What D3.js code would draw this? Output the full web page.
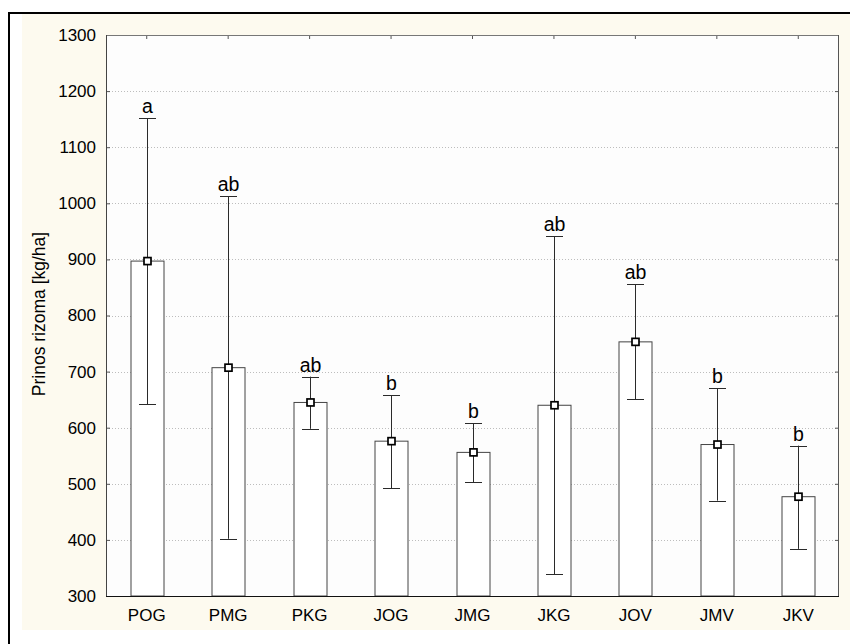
<!DOCTYPE html>
<html><head><meta charset="utf-8">
<script src="https://cdn.jsdelivr.net/npm/d3@7"></script>
<style>body{margin:0;background:#fff}svg{display:block}text{font-family:"Liberation Sans",Arial,sans-serif;fill:#000}</style>
</head><body><svg id="c" width="850" height="644"></svg>
<script>
const categories = ["POG","PMG","PKG","JOG","JMG","JKG","JOV","JMV","JKV"];
const means      = [897, 707, 645, 576, 556, 640, 753, 570, 477];
const upper      = [1152, 1013, 691, 658, 608, 941, 856, 670, 568];
const lower      = [642, 402, 598, 492, 503, 339, 651, 470, 384];
const letters    = ["a","ab","ab","b","b","ab","ab","b","b"];
const yTicks     = [300,400,500,600,700,800,900,1000,1100,1200,1300];

const svg = d3.select("#c");
const L=106, R=839, T=35, B=596;

// background frame
svg.append("rect").attr("x",22).attr("y",14).attr("width",828).attr("height",616).attr("fill","#fdfaef");
svg.append("line").attr("x1",8).attr("x2",850).attr("y1",13).attr("y2",13).attr("stroke","#000").attr("stroke-width",2);
svg.append("line").attr("x1",9).attr("x2",9).attr("y1",12).attr("y2",644).attr("stroke","#000").attr("stroke-width",2);
svg.append("rect").attr("x",L).attr("y",T).attr("width",R-L).attr("height",B-T).attr("fill","#fdfdfd");

const x = d3.scaleBand().domain(categories).range([L,R]).padding(0);
const y = d3.scaleLinear().domain([300,1300]).range([B,T]);

// grid
svg.append("g").selectAll("line").data(yTicks.slice(1,-1)).join("line")
  .attr("x1",L).attr("x2",R).attr("y1",d=>Math.round(y(d))+0.5).attr("y2",d=>Math.round(y(d))+0.5)
  .attr("stroke","#bdbdbd").attr("stroke-dasharray","1,2");

// axes
const fmt = d3.format("d");
const ay = svg.append("g").attr("transform",`translate(${L},0)`)
  .call(d3.axisLeft(y).tickValues(yTicks).tickFormat(fmt).tickSize(-4).tickPadding(10));
const ay2 = svg.append("g").attr("transform",`translate(${R},0)`)
  .call(d3.axisRight(y).tickValues(yTicks).tickFormat("").tickSize(-4));
const ax = svg.append("g").attr("transform",`translate(0,${B})`)
  .call(d3.axisBottom(x).tickSize(-3).tickPadding(13));
const ax2 = svg.append("g").attr("transform",`translate(0,${T})`)
  .call(d3.axisTop(x).tickFormat("").tickSize(-4));
[ay,ay2,ax,ax2].forEach(g=>{g.select(".domain").remove();g.selectAll("line").attr("stroke","#555");});
svg.selectAll("g text").attr("font-size","17px").attr("fill","#000").style("font-family","'Liberation Sans',Arial,sans-serif");

// bars
const bw = 33;
const g = svg.append("g");
categories.forEach((c,i)=>{
  const cx = Math.round(x(c)+x.bandwidth()/2)+0.5;
  g.append("rect").attr("x",cx-bw/2).attr("y",y(means[i])).attr("width",bw).attr("height",B-y(means[i]))
    .attr("fill","#fff").attr("stroke","#444");
  g.append("line").attr("x1",cx).attr("x2",cx).attr("y1",y(upper[i])).attr("y2",y(lower[i])).attr("stroke","#2a2a2a");
  [upper[i],lower[i]].forEach(v=>{
    g.append("line").attr("x1",cx-8.5).attr("x2",cx+8.5).attr("y1",Math.round(y(v))+0.5).attr("y2",Math.round(y(v))+0.5).attr("stroke","#2a2a2a");
  });
  g.append("rect").attr("x",cx-3.5).attr("y",y(means[i])-3.5).attr("width",7).attr("height",7)
    .attr("fill","#fff").attr("stroke","#000").attr("stroke-width",1.7);
  g.append("text").attr("x",cx).attr("y",y(upper[i])-5).attr("text-anchor","middle").attr("font-size","19.5px").text(letters[i]);
});

// frame lines
svg.append("line").attr("x1",L).attr("x2",R).attr("y1",T+0.5).attr("y2",T+0.5).attr("stroke","#777");
svg.append("line").attr("x1",R-0.5).attr("x2",R-0.5).attr("y1",T).attr("y2",B).attr("stroke","#555");
svg.append("line").attr("x1",L+0.5).attr("x2",L+0.5).attr("y1",T).attr("y2",B).attr("stroke","#444");
svg.append("line").attr("x1",L).attr("x2",R).attr("y1",B+0.5).attr("y2",B+0.5).attr("stroke","#111");

svg.append("text").attr("transform","translate(45,314) rotate(-90)").attr("text-anchor","middle")
  .attr("font-size","17.5px").text("Prinos rizoma [kg/ha]");
</script></body></html>
